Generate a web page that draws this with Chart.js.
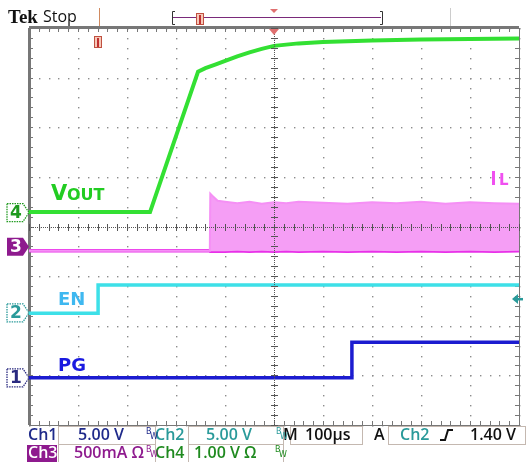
<!DOCTYPE html>
<html>
<head>
<meta charset="utf-8">
<script src="https://cdn.jsdelivr.net/npm/chart.js@4.4.1/dist/chart.umd.min.js"></script>
<style>
  body { margin: 0; background: #fff; }
  canvas { display: block; }
</style>
</head>
<body>
<canvas id="scope" width="529" height="462"></canvas>
<script>
// time axis in µs (100µs/div), vertical axis in screen divisions

// Ch4 VOUT
const voutTime = [-500, -253, -155, -140, -120, -101, -75, -50, -25, 0, 50, 100, 200, 300, 400, 500];
const voutDiv = [0.29, 0.29, 3.12, 3.19, 3.26, 3.33, 3.43, 3.51, 3.58, 3.64, 3.69, 3.72, 3.75, 3.77, 3.78, 3.79];

// Ch3 IL (switching band: top edge / bottom edge)
const ilTime = [-500, -131, -130, -126, -115, -100, -75, -50, -25, 0, 25, 50, 100, 150, 200, 250, 300, 350, 400, 450, 500];
const ilTop = [-0.49, -0.49, 0.66, 0.62, 0.52, 0.50, 0.47, 0.50, 0.46, 0.49, 0.47, 0.50, 0.48, 0.46, 0.49, 0.47, 0.50, 0.46, 0.49, 0.47, 0.46];
const ilBottom = [-0.49, -0.49, -0.50, -0.50, -0.50, -0.50, -0.49, -0.50, -0.49, -0.50, -0.49, -0.50, -0.49, -0.50, -0.49, -0.50, -0.49, -0.50, -0.49, -0.50, -0.49];

// Ch2 EN
const enTime = [-500, -359, -359, 500];
const enDiv = [-1.75, -1.75, -1.18, -1.18];

// Ch1 PG
const pgTime = [-500, 159, 159, 500];
const pgDiv = [-3.05, -3.05, -2.33, -2.33];

// ground markers on the left (div)
const markerNames = ['4', '3', '2', '1'];
const markerDiv = [0.28, -0.41, -1.74, -3.05];
const trigLevelDiv = -1.46;

function pts(xs, ys) {
  return xs.map((t, i) => ({ x: t, y: ys[i] }));
}

const scopeGrid = {
  id: 'scopeGrid',
  beforeDatasetsDraw(chart) {
    const { ctx, chartArea: a, scales: { x, y } } = chart;
    ctx.save();
    // dotted graticule
    ctx.fillStyle = '#8c8c8c';
    for (let i = 0; i <= 10; i++) {
      const px = Math.round(x.getPixelForValue(-500 + i * 100));
      for (let k = 0; k <= 40; k++) {
        ctx.fillRect(px, Math.round(y.getPixelForValue(-4 + k * 0.2)), 1.4, 1.4);
      }
    }
    for (let j = 0; j <= 8; j++) {
      const py = Math.round(y.getPixelForValue(-4 + j));
      for (let k = 0; k <= 50; k++) {
        ctx.fillRect(Math.round(x.getPixelForValue(-500 + k * 20)), py, 1.4, 1.4);
      }
    }
    // border with ticks
    ctx.strokeStyle = '#777';
    ctx.lineWidth = 1;
    ctx.strokeRect(a.left + 0.5, a.top + 0.5, a.right - a.left, a.bottom - a.top);
    ctx.fillStyle = '#777';
    ctx.fillRect(a.left - 1, a.top, 3, a.bottom - a.top);
    ctx.fillRect(a.left, a.top - 2, a.right - a.left, 2);
    for (let k = 0; k <= 50; k++) {
      const px = Math.round(x.getPixelForValue(-500 + k * 20));
      ctx.fillRect(px, a.top, 1, 4);
      ctx.fillRect(px, a.bottom - 4, 1, 4);
    }
    for (let k = 0; k <= 40; k++) {
      const py = Math.round(y.getPixelForValue(-4 + k * 0.2));
      ctx.fillRect(a.left, py, 4, 1);
      ctx.fillRect(a.right - 4, py, 4, 1);
    }
    ctx.restore();
  },
  afterDatasetsDraw(chart) {
    const { ctx, chartArea: a, scales: { x, y } } = chart;
    ctx.save();
    // center crosshair on top of traces
    const cx = Math.round(x.getPixelForValue(0));
    const cy = Math.round(y.getPixelForValue(0));
    ctx.fillStyle = '#555';
    for (let px = a.left; px < a.right; px += 2) ctx.fillRect(px, cy, 1, 1);
    for (let py = a.top; py < a.bottom; py += 2) ctx.fillRect(cx, py, 1, 1);
    for (let k = 0; k <= 50; k++) {
      const px = Math.round(x.getPixelForValue(-500 + k * 20));
      ctx.fillRect(px, cy - 3, 1, 7);
    }
    for (let k = 0; k <= 40; k++) {
      const py = Math.round(y.getPixelForValue(-4 + k * 0.2));
      ctx.fillRect(cx - 3, py, 7, 1);
    }
    ctx.restore();
  }
};

function marker(ctx, x0, yc, label, color, filled) {
  ctx.save();
  ctx.beginPath();
  ctx.moveTo(x0, yc - 9);
  ctx.lineTo(x0 + 16, yc - 9);
  ctx.lineTo(x0 + 22, yc);
  ctx.lineTo(x0 + 16, yc + 9);
  ctx.lineTo(x0, yc + 9);
  ctx.closePath();
  if (filled) {
    ctx.fillStyle = color;
    ctx.fill();
  } else {
    ctx.fillStyle = '#fff';
    ctx.fill();
    ctx.setLineDash([1.5, 1]);
    ctx.strokeStyle = color;
    ctx.lineWidth = 1.3;
    ctx.stroke();
  }
  ctx.setLineDash([]);
  ctx.fillStyle = filled ? '#fff' : color;
  ctx.font = 'bold 17px "DejaVu Sans"';
  ctx.textAlign = 'center';
  ctx.textBaseline = 'middle';
  ctx.fillText(label, x0 + 9, yc + 1);
  ctx.restore();
}

function box(ctx, x, y, w, h) {
  ctx.strokeStyle = '#c4b8b0';
  ctx.lineWidth = 1;
  ctx.strokeRect(x + 0.5, y + 0.5, w, h);
}

const overlay = {
  id: 'overlay',
  afterDraw(chart) {
    const { ctx, chartArea: a, scales: { x, y } } = chart;
    ctx.save();
    // left ground markers
    const mColors = ['#1f9a1f', '#8e1a8e', '#2a9a9a', '#2a2a80'];
    markerNames.forEach((n, i) => {
      marker(ctx, 7, y.getPixelForValue(markerDiv[i]), n, mColors[i], i === 1);
    });

    // trace labels
    ctx.textBaseline = 'alphabetic';
    ctx.textAlign = 'left';
    ctx.fillStyle = '#22cc22';
    ctx.font = 'bold 21px "DejaVu Sans"';
    ctx.fillText('V', 51, 200);
    ctx.font = 'bold 16px "DejaVu Sans"';
    ctx.fillText('OUT', 67, 200);
    ctx.fillStyle = '#3fb8f0';
    ctx.font = 'bold 18px "DejaVu Sans"';
    ctx.fillText('EN', 58, 305);
    ctx.fillStyle = '#1a1ae0';
    ctx.fillText('PG', 58, 371);
    ctx.fillStyle = '#f050f0';
    ctx.fillRect(492, 171, 3, 14);
    ctx.font = 'bold 15px "DejaVu Sans"';
    ctx.fillText('L', 499, 185);

    // trigger level arrow (right)
    const ty = y.getPixelForValue(trigLevelDiv);
    ctx.fillStyle = '#2a9a9a';
    ctx.beginPath();
    ctx.moveTo(512, ty);
    ctx.lineTo(518, ty - 5);
    ctx.lineTo(518, ty + 5);
    ctx.closePath();
    ctx.fill();
    ctx.fillRect(517, ty - 1, 6, 2.5);

    // top status bar
    ctx.fillStyle = '#111';
    ctx.font = 'bold 19px "Liberation Serif"';
    ctx.fillText('Tek', 8, 23);
    ctx.font = '16px "Open Sans"';
    ctx.fillText('Stop', 43, 22);
    ctx.strokeStyle = '#7a2a7a';
    ctx.lineWidth = 1;
    ctx.beginPath();
    ctx.moveTo(173, 17.5);
    ctx.lineTo(381, 17.5);
    ctx.stroke();
    ctx.strokeStyle = '#333';
    ctx.beginPath();
    ctx.moveTo(175, 11.5); ctx.lineTo(172.5, 11.5); ctx.lineTo(172.5, 24.5); ctx.lineTo(175, 24.5);
    ctx.moveTo(380, 11.5); ctx.lineTo(382.5, 11.5); ctx.lineTo(382.5, 24.5); ctx.lineTo(380, 24.5);
    ctx.stroke();
    ctx.strokeStyle = '#d08a60';
    ctx.beginPath();
    ctx.moveTo(99.5, 8); ctx.lineTo(99.5, 26);
    ctx.stroke();
    ctx.strokeStyle = '#cccccc';
    ctx.beginPath();
    ctx.moveTo(450.5, 8); ctx.lineTo(450.5, 26);
    ctx.stroke();
    // position icons
    const tIcon = (cx, cy) => {
      ctx.fillStyle = '#f6c8b8';
      ctx.strokeStyle = '#c05040';
      ctx.fillRect(cx - 4, cy - 6, 8, 12);
      ctx.strokeRect(cx - 3.5, cy - 5.5, 7, 11);
      ctx.fillStyle = '#c03030';
      ctx.fillRect(cx - 1, cy - 4, 2, 9);
    };
    tIcon(200, 19);
    tIcon(98, 42);
    const cx = x.getPixelForValue(0);
    ctx.fillStyle = '#e07070';
    ctx.beginPath();
    ctx.moveTo(cx - 4, 9); ctx.lineTo(cx + 4, 9); ctx.lineTo(cx, 13); ctx.closePath();
    ctx.fill();
    ctx.beginPath();
    ctx.moveTo(cx - 5, a.top + 1); ctx.lineTo(cx + 5, a.top + 1); ctx.lineTo(cx, a.top + 7); ctx.closePath();
    ctx.fill();

    // bottom readouts
    ctx.font = '600 16px "Open Sans"';
    ctx.textBaseline = 'middle';
    const r1 = 435, r2 = 453;
    box(ctx, 58, 426, 97, 18);
    box(ctx, 188, 426, 95, 18);
    box(ctx, 290, 426, 72, 18);
    box(ctx, 388, 426, 137, 18);
    box(ctx, 58, 444, 97, 18);
    box(ctx, 188, 444, 95, 18);

    ctx.fillStyle = '#1f2a8a';
    ctx.fillText('Ch1', 28, r1);
    ctx.fillText('5.00 V', 78, r1);
    ctx.fillStyle = '#2a9a9a';
    ctx.fillText('Ch2', 155, r1);
    ctx.fillText('5.00 V', 206, r1);
    ctx.fillStyle = '#111';
    ctx.fillText('M', 283, r1);
    ctx.fillText('100\u00b5s', 305, r1);
    ctx.fillText('A', 374, r1);
    ctx.fillStyle = '#2a9a9a';
    ctx.fillText('Ch2', 400, r1);
    ctx.fillStyle = '#111';
    ctx.fillText('1.40 V', 470, r1);
    // rising-edge slope symbol
    ctx.strokeStyle = '#111';
    ctx.lineWidth = 2;
    ctx.beginPath();
    ctx.moveTo(440, r1 + 5); ctx.lineTo(445, r1 + 5); ctx.lineTo(448, r1 - 5); ctx.lineTo(453, r1 - 5);
    ctx.stroke();

    ctx.fillStyle = '#8e1a8e';
    ctx.fillRect(27, 445, 30, 17);
    ctx.fillStyle = '#fff';
    ctx.fillText('Ch3', 28, r2);
    ctx.fillStyle = '#8e1a8e';
    ctx.fillText('500mA \u03a9', 74, r2);
    ctx.fillStyle = '#1f8a1f';
    ctx.fillText('Ch4', 155, r2);
    ctx.fillText('1.00 V \u03a9', 194, r2);

    // bandwidth-limit badges
    ctx.font = '8px "DejaVu Sans"';
    const bw = (bx, by, c) => {
      ctx.fillStyle = c;
      ctx.fillText('B', bx, by - 3);
      ctx.fillText('W', bx + 4, by + 2);
    };
    bw(146, r1, '#1f2a8a');
    bw(276, r1, '#2a9a9a');
    bw(146, r2, '#8e1a8e');
    bw(275, r2, '#1f8a1f');
    ctx.restore();
  }
};

const data = {
  datasets: [
    {
      label: 'IL top',
      data: pts(ilTime, ilTop),
      borderColor: '#f590f5',
      backgroundColor: '#f59ef5',
      borderWidth: 2,
      fill: '+1'
    },
    {
      label: 'IL',
      data: pts(ilTime, ilBottom),
      borderColor: '#e830e8',
      borderWidth: 3.5,
      fill: false
    },
    {
      label: 'VOUT',
      data: pts(voutTime, voutDiv),
      borderColor: '#33e033',
      borderWidth: 4,
      fill: false
    },
    {
      label: 'EN',
      data: pts(enTime, enDiv),
      borderColor: '#3de0e8',
      borderWidth: 3.5,
      fill: false
    },
    {
      label: 'PG',
      data: pts(pgTime, pgDiv),
      borderColor: '#1c1cd0',
      borderWidth: 3.5,
      fill: false
    }
  ]
};

const ctx = document.getElementById('scope').getContext('2d');
const myChart = new Chart(ctx, {
  type: 'line',
  data: data,
  options: {
    responsive: false,
    animation: false,
    devicePixelRatio: 1,
    layout: { padding: { left: 29, right: 10, top: 28, bottom: 37 } },
    elements: { point: { radius: 0 }, line: { tension: 0 } },
    scales: {
      x: { type: 'linear', min: -500, max: 500, display: false },
      y: { type: 'linear', min: -4, max: 4, display: false }
    },
    plugins: { legend: { display: false }, tooltip: { enabled: false } }
  },
  plugins: [scopeGrid, overlay]
});
</script>
</body>
</html>
